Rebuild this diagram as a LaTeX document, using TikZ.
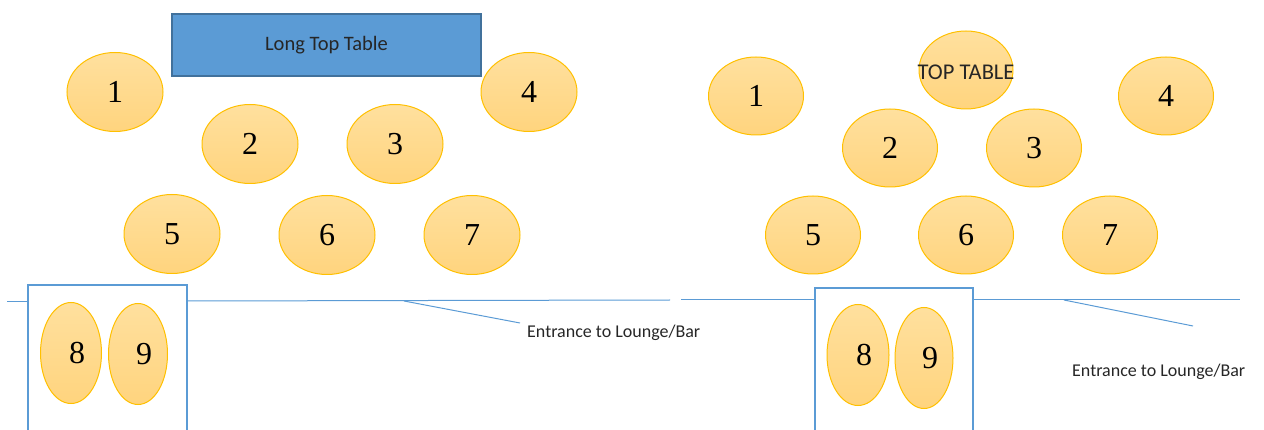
\documentclass[tikz,border=0pt]{standalone}
\usepackage{fontspec}
\setmainfont{Liberation Serif}
\newfontfamily\labelfont{Carlito}
\usetikzlibrary{shapes.geometric}
\definecolor{tblfillA}{HTML}{FFE09E}
\definecolor{tblfillB}{HTML}{FFD47E}
\definecolor{tbledge}{HTML}{FFC000}
\definecolor{wallblue}{HTML}{5B9BD5}
\definecolor{headedge}{HTML}{41719C}
\tikzset{
  tbl/.style={ellipse, draw=tbledge, line width=1pt, top color=tblfillA, bottom color=tblfillB,
    inner sep=0pt, minimum width=96pt, minimum height=79pt, font=\fontsize{32}{32}\selectfont, text=black},
  tall/.style={tbl, minimum width=61pt, minimum height=101pt},
  headtable/.style={draw=headedge, line width=1.5pt, fill=wallblue, inner sep=0pt,
    minimum width=309pt, minimum height=62pt, font=\labelfont\fontsize{20.5}{20.5}\selectfont, text=black!85},
  wall/.style={draw=wallblue, line width=1pt},
  bay/.style={draw=wallblue, line width=2pt},
  note/.style={anchor=west, inner sep=0pt, font=\labelfont\fontsize{18}{18}\selectfont, text=black!85},
}
\begin{document}
\begin{tikzpicture}[x=1pt,y=-1pt]
\useasboundingbox (0,0) rectangle (1264,430);
\clip (0,0) rectangle (1264,430);
% ---------- left layout ----------
\node[headtable] (LTT) at (326.5,45) {Long Top Table};
\node[tbl] (L1) at (115,92) {1};
\node[tbl] (L2) at (250,144) {2};
\node[tbl] (L3) at (395,144) {3};
\node[tbl] (L4) at (529,92) {4};
\node[tbl] (L5) at (172,234) {5};
\node[tbl] (L6) at (327,235) {6};
\node[tbl] (L7) at (472,235) {7};
\draw[bay] (28,440) -- (28,285) -- (187,285) -- (187,440);
\node[tall] (L8) at (71,353) {\hskip12pt 8};
\node[tall, minimum width=59pt] (L9) at (138,354) {\hskip12pt 9};
\coordinate (LwA) at (7,302);
\coordinate (LwB) at (28,302);
\coordinate (LwC) at (187,301);
\coordinate (LwD) at (670,300);
\coordinate (LdA) at (404,301);
\coordinate (LdB) at (520,323);
\draw[wall] (LwA) -- (LwB);
\draw[wall] (LwC) -- (LwD);
\draw[wall] (LdA) -- (LdB);
\node[note] (Lent) at (527,333) {Entrance to Lounge/Bar};
% ---------- right layout ----------
\node[tbl, minimum width=94pt, minimum height=78pt] (RTT) at (966,70) {};
\node[font=\labelfont\fontsize{22.5}{22.5}\selectfont, text=black!85, inner sep=0pt] (RTTt) at (966,72) {TOP TABLE};
\node[tbl, minimum width=95pt, minimum height=78pt] (R1) at (756,96) {1};
\node[tbl, minimum width=95pt, minimum height=78pt] (R2) at (890,148) {2};
\node[tbl, minimum width=95pt, minimum height=78pt] (R3) at (1034,148) {3};
\node[tbl, minimum width=95pt, minimum height=78pt] (R4) at (1166,96) {4};
\node[tbl, minimum width=95pt, minimum height=78pt] (R5) at (813,235) {5};
\node[tbl, minimum width=95pt, minimum height=78pt] (R6) at (966,235) {6};
\node[tbl, minimum width=95pt, minimum height=78pt] (R7) at (1110,235) {7};
\draw[bay] (815,440) -- (815,288) -- (973,288) -- (973,440);
\node[tall, minimum width=62pt] (R8) at (858,355) {\hskip12pt 8};
\node[tall, minimum width=58pt] (R9) at (924,358) {\hskip12pt 9};
\coordinate (RwA) at (681,300);
\coordinate (RwB) at (815,300);
\coordinate (RwC) at (973,300);
\coordinate (RwD) at (1240,300);
\coordinate (RdA) at (1064,300);
\coordinate (RdB) at (1193,326);
\draw[wall] (RwA) -- (RwB);
\draw[wall] (RwC) -- (RwD);
\draw[wall] (RdA) -- (RdB);
\node[note] (Rent) at (1072,372) {Entrance to Lounge/Bar};
\end{tikzpicture}
\end{document}
